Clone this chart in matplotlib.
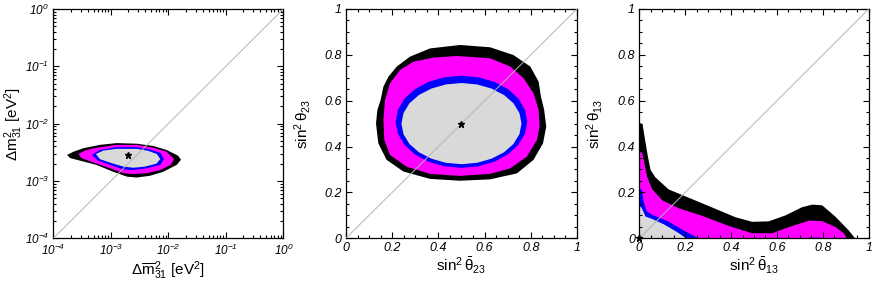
import matplotlib
matplotlib.use('Agg')
import matplotlib.pyplot as plt
import numpy as np

plt.rcParams['font.family'] = ['Liberation Sans', 'DejaVu Sans']
plt.rcParams['font.style'] = 'italic'  # tick labels are oblique
plt.rcParams['mathtext.fontset'] = 'custom'
plt.rcParams['mathtext.rm'] = 'Liberation Sans'
plt.rcParams['mathtext.it'] = 'Liberation Sans:italic'
plt.rcParams['mathtext.default'] = 'regular'

# contour colours, outermost first
levels = ['black', '#ff00ff', '#0000ff', '#d9d9d9']

# panel 1: log10 of dm2_bar (x) and dm2 (y) along each contour
dm_black_x = [-3.76, -3.65, -3.48, -3.19, -2.90, -2.55, -2.26, -2.03, -1.83, -1.78, -1.855,
              -2.09, -2.32, -2.55, -2.72, -2.96, -3.25, -3.54, -3.71]
dm_black_y = [-2.546, -2.49, -2.43, -2.37, -2.34, -2.35, -2.39, -2.46, -2.56, -2.63, -2.72,
              -2.84, -2.91, -2.94, -2.925, -2.84, -2.72, -2.645, -2.60]
dm_mag_x = [-3.565, -3.45, -3.30, -2.90, -2.55, -2.26, -2.03, -1.90, -1.96, -2.14, -2.38,
            -2.61, -2.78, -3.01, -3.30, -3.51]
dm_mag_y = [-2.53, -2.47, -2.43, -2.37, -2.37, -2.42, -2.49, -2.62, -2.72, -2.81, -2.865,
            -2.88, -2.865, -2.78, -2.68, -2.60]
dm_blue_x = [-3.33, -3.19, -2.90, -2.55, -2.32, -2.14, -2.075, -2.14, -2.38, -2.61, -2.78, -3.01, -3.22]
dm_blue_y = [-2.546, -2.46, -2.41, -2.41, -2.45, -2.51, -2.62, -2.72, -2.78, -2.81, -2.80, -2.72, -2.645]
dm_gray_x = [-3.26, -3.13, -2.90, -2.55, -2.35, -2.20, -2.14, -2.21, -2.41, -2.61, -2.78, -2.985, -3.19]
dm_gray_y = [-2.53, -2.47, -2.44, -2.44, -2.475, -2.53, -2.62, -2.70, -2.75, -2.77, -2.75, -2.69, -2.62]
dm_best = (1.95e-3, 2.85e-3)

# panel 2: sin^2 theta23_bar (x), sin^2 theta23 (y)
t23_black_x = [0.130, 0.136, 0.150, 0.162, 0.184, 0.220, 0.277, 0.364, 0.494, 0.624, 0.725, 0.798,
               0.834, 0.844, 0.858, 0.867, 0.853, 0.812, 0.740, 0.624, 0.494, 0.364, 0.249, 0.176, 0.140]
t23_black_y = [0.501, 0.560, 0.603, 0.661, 0.705, 0.749, 0.792, 0.828, 0.843, 0.833, 0.799, 0.749,
               0.683, 0.618, 0.560, 0.487, 0.414, 0.342, 0.283, 0.257, 0.251, 0.259, 0.291, 0.342, 0.414]
t23_mag_x = [0.162, 0.169, 0.191, 0.234, 0.292, 0.380, 0.480, 0.624, 0.711, 0.769, 0.812, 0.834,
             0.838, 0.827, 0.783, 0.711, 0.624, 0.494, 0.364, 0.263, 0.191, 0.166]
t23_mag_y = [0.516, 0.603, 0.676, 0.734, 0.770, 0.788, 0.795, 0.785, 0.749, 0.698, 0.632, 0.560,
             0.487, 0.429, 0.356, 0.305, 0.281, 0.272, 0.281, 0.312, 0.363, 0.429]
t23_blue_x = [0.785, 0.775, 0.747, 0.702, 0.643, 0.574, 0.500, 0.426, 0.357, 0.298, 0.253, 0.225,
              0.215, 0.225, 0.253, 0.298, 0.357, 0.426, 0.500, 0.574, 0.643, 0.702, 0.747, 0.775]
t23_blue_y = [0.508, 0.560, 0.609, 0.650, 0.682, 0.702, 0.709, 0.702, 0.682, 0.650, 0.609, 0.560,
              0.508, 0.456, 0.408, 0.366, 0.334, 0.314, 0.307, 0.314, 0.334, 0.366, 0.408, 0.456]
t23_gray_x = [0.760, 0.751, 0.725, 0.684, 0.630, 0.567, 0.500, 0.433, 0.370, 0.316, 0.275, 0.249,
              0.240, 0.249, 0.275, 0.316, 0.370, 0.433, 0.500, 0.567, 0.630, 0.684, 0.725, 0.751]
t23_gray_y = [0.500, 0.546, 0.589, 0.625, 0.653, 0.671, 0.677, 0.671, 0.653, 0.625, 0.589, 0.546,
              0.500, 0.454, 0.411, 0.375, 0.347, 0.329, 0.323, 0.329, 0.347, 0.375, 0.411, 0.454]
t23_best = (0.5, 0.5)

# panel 3: upper edge of each allowed region (regions reach down to 0)
t13_black_x = [0, 0.012, 0.02, 0.035, 0.047, 0.068, 0.126, 0.199, 0.30, 0.417, 0.49, 0.562,
               0.635, 0.708, 0.752, 0.795, 0.853, 0.911, 0.94]
t13_black_y = [0.505, 0.50, 0.45, 0.36, 0.30, 0.268, 0.215, 0.185, 0.143, 0.094, 0.074, 0.076,
               0.102, 0.138, 0.149, 0.146, 0.096, 0.036, 0.0]
t13_mag_x = [0, 0.01, 0.02, 0.032, 0.054, 0.098, 0.17, 0.272, 0.388, 0.49, 0.577, 0.65,
             0.737, 0.795, 0.853, 0.889, 0.905]
t13_mag_y = [0.38, 0.375, 0.33, 0.27, 0.216, 0.168, 0.133, 0.100, 0.056, 0.024, 0.024, 0.051,
             0.079, 0.077, 0.051, 0.024, 0.0]
t13_blue_x = [0, 0.01, 0.017, 0.03, 0.054, 0.119, 0.192, 0.25, 0.27]
t13_blue_y = [0.218, 0.212, 0.16, 0.12, 0.105, 0.078, 0.036, 0.005, 0.0]
t13_blue2_x = [0.72, 0.74, 0.78, 0.80]
t13_blue2_y = [0.0, 0.005, 0.005, 0.0]
t13_gray_x = [0, 0.008, 0.025, 0.05, 0.105, 0.163, 0.205]
t13_gray_y = [0.141, 0.135, 0.097, 0.088, 0.063, 0.029, 0.0]
t13_best = (0.0, 0.0)

lin_ticks = [0, 0.2, 0.4, 0.6, 0.8, 1.0]
lin_labels = ['0', '0.2', '0.4', '0.6', '0.8', '1']
log_ticks = [1e-4, 1e-3, 1e-2, 1e-1, 1e0]
log_labels = [r'$10^{-4}$', r'$10^{-3}$', r'$10^{-2}$', r'$10^{-1}$', r'$10^{0}$']

fig = plt.figure(figsize=(8.73, 2.84), dpi=100)
ax1 = fig.add_axes([0.0611, 0.161, 0.2635, 0.8074])
ax2 = fig.add_axes([0.3963, 0.161, 0.2646, 0.8074])
ax3 = fig.add_axes([0.7323, 0.161, 0.2628, 0.8074])

diag = '#b4b4b4'
lab = dict(fontsize=11, fontstyle='normal')


def style(ax, size):
    ax.tick_params(which='both', direction='in', top=True, right=True, width=0.8)
    ax.tick_params(which='major', length=4, labelsize=size, pad=3)
    ax.tick_params(which='minor', length=2)
    for s in ax.spines.values():
        s.set_linewidth(0.9)


# panel 1
for (xs, ys), c in zip([(dm_black_x, dm_black_y), (dm_mag_x, dm_mag_y),
                        (dm_blue_x, dm_blue_y), (dm_gray_x, dm_gray_y)], levels):
    ax1.fill(10.0 ** np.array(xs), 10.0 ** np.array(ys), color=c, lw=0)
ax1.plot([1e-4, 1], [1e-4, 1], color=diag, lw=0.7, zorder=5)
ax1.plot(*dm_best, marker='*', color='black', ms=5, zorder=6)
ax1.set_xscale('log')
ax1.set_yscale('log')
ax1.set_xlim(1e-4, 1)
ax1.set_ylim(1e-4, 1)
ax1.set_xticks(log_ticks, log_labels)
ax1.set_yticks(log_ticks, log_labels)
ax1.xaxis.set_minor_locator(matplotlib.ticker.LogLocator(base=10, subs=np.arange(2, 10)))
ax1.yaxis.set_minor_locator(matplotlib.ticker.LogLocator(base=10, subs=np.arange(2, 10)))
ax1.xaxis.set_minor_formatter(matplotlib.ticker.NullFormatter())
ax1.yaxis.set_minor_formatter(matplotlib.ticker.NullFormatter())
ax1.set_xlabel(r'$\Delta\overline{m}^{2}_{31}$ [eV$^{2}$]', labelpad=1, **lab)
ax1.set_ylabel(r'$\Delta m^{2}_{31}$ [eV$^{2}$]', **lab)
ax1.yaxis.set_label_coords(-0.125, 0.5)
style(ax1, 8.5)

# panel 2
for (xs, ys), c in zip([(t23_black_x, t23_black_y), (t23_mag_x, t23_mag_y),
                        (t23_blue_x, t23_blue_y), (t23_gray_x, t23_gray_y)], levels):
    ax2.fill(xs, ys, color=c, lw=0)
ax2.plot([0, 1], [0, 1], color=diag, lw=0.7, zorder=5)
ax2.plot(*t23_best, marker='*', color='black', ms=5, zorder=6)
ax2.set_xlabel(r'sin$^{2}\,\bar{\theta}_{23}$', labelpad=1, **lab)
ax2.set_ylabel(r'sin$^{2}\,\theta_{23}$', **lab)
ax2.yaxis.set_label_coords(-0.143, 0.5)

# panel 3
for (xs, ys), c in zip([(t13_black_x, t13_black_y), (t13_mag_x, t13_mag_y),
                        (t13_blue_x, t13_blue_y), (t13_blue2_x, t13_blue2_y),
                        (t13_gray_x, t13_gray_y)],
                       [levels[0], levels[1], levels[2], levels[2], levels[3]]):
    ax3.fill_between(xs, 0, ys, color=c, lw=0)
ax3.plot([0, 1], [0, 1], color=diag, lw=0.7, zorder=5)
ax3.plot(*t13_best, marker='*', color='black', ms=5, zorder=6, clip_on=False)
ax3.set_xlabel(r'sin$^{2}\,\bar{\theta}_{13}$', labelpad=1, **lab)
ax3.set_ylabel(r'sin$^{2}\,\theta_{13}$', **lab)
ax3.yaxis.set_label_coords(-0.15, 0.5)

for ax in (ax2, ax3):
    ax.set_xlim(0, 1)
    ax.set_ylim(0, 1)
    ax.set_xticks(lin_ticks, lin_labels)
    ax.set_yticks(lin_ticks, lin_labels)
    ax.xaxis.set_minor_locator(matplotlib.ticker.MultipleLocator(0.05))
    ax.yaxis.set_minor_locator(matplotlib.ticker.MultipleLocator(0.05))
    style(ax, 9)

fig.savefig('out.png', dpi=100)
